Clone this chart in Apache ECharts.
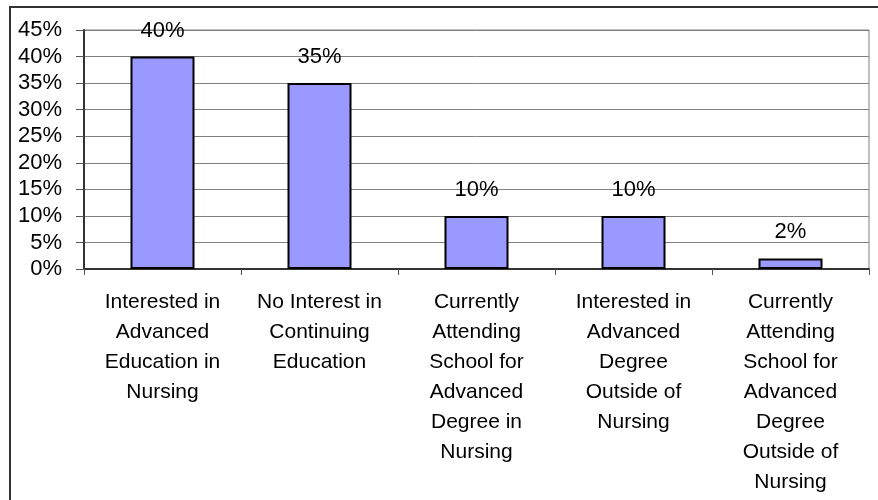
<!DOCTYPE html>
<html>
<head>
<meta charset="utf-8">
<script src="https://cdn.jsdelivr.net/npm/echarts@6/dist/echarts.min.js"></script>
<style>
html,body{margin:0;padding:0;background:#fff;}
#c{width:878px;height:500px;}
</style>
</head>
<body>
<div id="c"></div>
<script>
const categories = [
  "Interested in\nAdvanced\nEducation in\nNursing",
  "No Interest in\nContinuing\nEducation",
  "Currently\nAttending\nSchool for\nAdvanced\nDegree in\nNursing",
  "Interested in\nAdvanced\nDegree\nOutside of\nNursing",
  "Currently\nAttending\nSchool for\nAdvanced\nDegree\nOutside of\nNursing"
];
const values = [40, 35, 10, 10, 2];
const yMin = 0, yMax = 45, yStep = 5;

const FONT = "'Liberation Sans', Arial, sans-serif";
const chart = echarts.init(document.getElementById('c'), null, {renderer: 'canvas'});
chart.setOption({
  animation: false,
  backgroundColor: '#fff',
  graphic: [{
    type: 'rect',
    shape: {x: 10, y: 7, width: 900, height: 520},
    style: {fill: 'none', stroke: '#333', lineWidth: 2},
    z: 100
  }],
  grid: {left: 84, right: 9, top: 30, bottom: 231, show: true, borderColor: '#808080', borderWidth: 1, backgroundColor: 'transparent'},
  xAxis: {
    type: 'category',
    data: categories,
    axisLine: {lineStyle: {color: '#333', width: 2}},
    axisTick: {show: true, length: 6, lineStyle: {color: '#555'}},
    axisLabel: {color: '#000', fontFamily: FONT, fontSize: 21, lineHeight: 30, margin: 18, interval: 0}
  },
  yAxis: {
    type: 'value',
    min: yMin, max: yMax, interval: yStep,
    axisLine: {show: true, lineStyle: {color: '#333', width: 2}},
    axisTick: {show: true, length: 8, lineStyle: {color: '#555'}},
    splitLine: {lineStyle: {color: '#808080', width: 1}},
    axisLabel: {color: '#000', fontFamily: FONT, fontSize: 22, margin: 22, formatter: '{value}%'}
  },
  series: [{
    type: 'bar',
    data: values,
    barWidth: 64,
    itemStyle: {color: '#9999FF', borderColor: '#000', borderWidth: 2},
    label: {show: true, position: 'top', distance: 15, color: '#000', fontFamily: FONT, fontSize: 22, formatter: '{c}%'}
  }]
});
</script>
</body>
</html>
